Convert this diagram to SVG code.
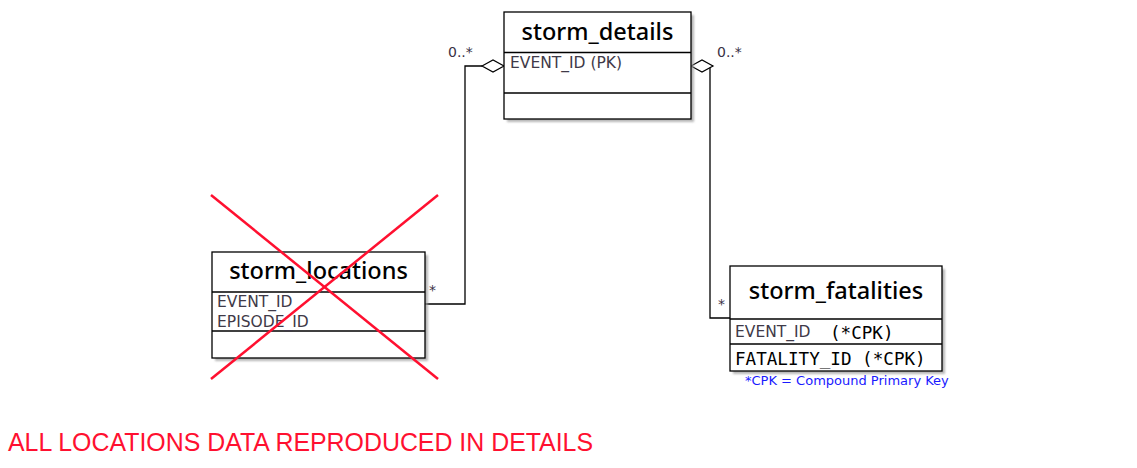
<svg xmlns="http://www.w3.org/2000/svg" width="1137" height="468" viewBox="0 0 1137 468">
<style>
.box{fill:#fff;stroke:#000;stroke-width:1.3}
.shadow{fill:#9a9a9a;opacity:0.7}
.sep{stroke:#000;stroke-width:1.3}
.title{font-family:"Noto Sans","DejaVu Sans",sans-serif;font-size:23.5px;font-weight:500;fill:#000;text-anchor:middle}
.attr{font-family:"DejaVu Sans",sans-serif;font-size:15.5px;fill:#3f3a48}
.mono{font-family:"DejaVu Sans Mono","Liberation Mono",monospace;font-size:17.6px;fill:#000}
.mult{font-family:"DejaVu Sans",sans-serif;font-size:14px;fill:#3a3045}
.conn{fill:none;stroke:#000;stroke-width:1.3}
.diamond{fill:#fff;stroke:#000;stroke-width:1.2}
.cross{stroke:#ff1030;stroke-width:2.5}
</style>
<defs>
<filter id="blur" x="-10%" y="-10%" width="120%" height="120%"><feGaussianBlur stdDeviation="1"/></filter>
</defs>
<g id="connectors">
<polyline class="conn" points="482,66 465,66 465,304 425,304"/>
<polyline class="conn" points="713,66 710,66 710,318 730,318"/>
<polygon class="diamond" points="482,66 493,60 504,66 493,72"/>
<polygon class="diamond" points="691,66 702,60 713,66 702,72"/>
<text class="mult" x="448" y="57">0..*</text>
<text class="mult" x="717" y="57">0..*</text>
<text class="mult" x="429" y="295">*</text>
<text class="mult" x="718" y="309">*</text>
</g>
<g id="storm_details">
<rect class="shadow" x="507" y="15" width="187" height="107" filter="url(#blur)"/>
<rect class="box" x="504" y="12" width="187" height="107"/>
<line class="sep" x1="504" y1="52.5" x2="691" y2="52.5"/>
<line class="sep" x1="504" y1="93" x2="691" y2="93"/>
<text class="title" x="597.5" y="40">storm_details</text>
<text class="attr" x="510" y="68">EVENT_ID (PK)</text>
</g>
<g id="storm_locations">
<rect class="shadow" x="215" y="255" width="213" height="106" filter="url(#blur)"/>
<rect class="box" x="212" y="252" width="213" height="106"/>
<line class="sep" x1="212" y1="292" x2="425" y2="292"/>
<line class="sep" x1="212" y1="331" x2="425" y2="331"/>
<text class="title" x="318.5" y="279">storm_locations</text>
<text class="attr" x="217" y="307">EVENT_ID</text>
<text class="attr" x="217" y="327">EPISODE_ID</text>
</g>
<g id="storm_fatalities">
<rect class="shadow" x="733" y="269" width="212" height="105" filter="url(#blur)"/>
<rect class="box" x="730" y="266" width="212" height="105"/>
<line class="sep" x1="730" y1="319" x2="942" y2="319"/>
<line class="sep" x1="730" y1="344" x2="942" y2="344"/>
<text class="title" x="836" y="299">storm_fatalities</text>
<text class="attr" x="735" y="337">EVENT_ID</text>
<text class="mono" x="830" y="339">(*CPK)</text>
<text class="mono" x="735" y="365">FATALITY_ID (*CPK)</text>
</g>
<text id="footnote" x="745" y="385" font-family="DejaVu Sans,sans-serif" font-size="13" fill="#1a1aff">*CPK = Compound Primary Key</text>
<g id="cross">
<line class="cross" x1="211" y1="195" x2="438" y2="379"/>
<line class="cross" x1="438" y1="195" x2="211" y2="379"/>
</g>
<text id="note" x="8" y="451" font-family="Liberation Sans,Arial,sans-serif" font-size="24.9" fill="#ff1030">ALL LOCATIONS DATA REPRODUCED IN DETAILS</text>
</svg>
